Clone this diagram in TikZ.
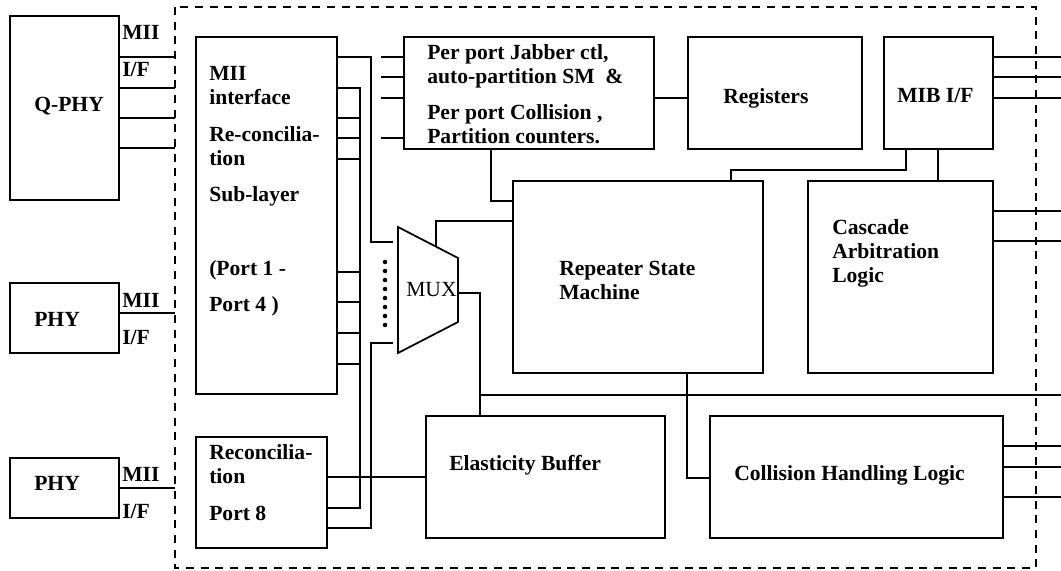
\documentclass[tikz,border=0pt]{standalone}
\usepackage{fontspec}
\setmainfont{Liberation Serif}
\usetikzlibrary{fit}

\begin{document}
\begin{tikzpicture}[x=0.75pt, y=-0.75pt,
    blockBox/.style={draw, line width=1.3pt, inner sep=0pt},
    labelTxt/.style={font=\fontsize{16.2}{18}\selectfont\bfseries,
                     align=left, anchor=north west, inner sep=0pt},
    muxTxt/.style={font=\fontsize{16.2}{18}\selectfont,
                   anchor=north west, inner sep=0pt},
    wire/.style={line width=1.1pt}]

  \useasboundingbox (0,0) rectangle (1061,571);

  %% ================================================================
  %%  CONTORNO DO CHIP (tracejado)
  %% ================================================================
  \draw[dash pattern=on 6pt off 5pt, line width=1.4pt] (175,7) rectangle (1036,568);

  \coordinate (frameW) at (175,0);
  \coordinate (edgeE)  at (1061,0);
  \coordinate (busA)   at (360,0);
  \coordinate (busB)   at (371,0);
  \coordinate (jabIn)  at (381,0);
  \coordinate (busC)   at (480,395);

  %% ================================================================
  %%  PHYs externos
  %% ================================================================
  \node[blockBox, fit={(10,16) (119,200)}]  (qphy) {};
  \node[blockBox, fit={(10,283) (119,353)}] (phyA) {};
  \node[blockBox, fit={(10,458) (119,518)}] (phyB) {};

  \node[labelTxt] (qphyLbl) at (34,97)  {Q-PHY};
  \node[labelTxt] (phyALbl) at (34,312) {PHY};
  \node[labelTxt] (phyBLbl) at (34,476) {PHY};

  \node[labelTxt] (ifLblQ) at (122,25)  {MII\\[9.5pt]I/F};
  \node[labelTxt] (ifLblA) at (122,293) {MII\\[9.5pt]I/F};
  \node[labelTxt] (ifLblB) at (122,467) {MII\\[10pt]I/F};

  \foreach \y in {57,88,118,148}
    \draw[wire] (qphy.east |- 0,\y) -- (frameW |- 0,\y);
  \draw[wire] (phyA.east |- 0,313) -- (frameW |- 0,313);
  \draw[wire] (phyB.east |- 0,488) -- (frameW |- 0,488);

  %% ================================================================
  %%  BLOCOS INTERNOS
  %% ================================================================
  \node[blockBox, fit={(196,37) (337,394)}]   (miiIf) {};
  \node[blockBox, fit={(196,437) (327,548)}]  (recon) {};
  \node[blockBox, fit={(404,37) (654,149)}]   (jabber) {};
  \node[blockBox, fit={(688,37) (862,149)}]   (regs) {};
  \node[blockBox, fit={(884,37) (993,149)}]   (mib) {};
  \node[blockBox, fit={(513,181) (763,373)}]  (rsm) {};
  \node[blockBox, fit={(808,181) (993,373)}]  (cascade) {};
  \node[blockBox, fit={(426,416) (665,538)}]  (elastic) {};
  \node[blockBox, fit={(710,416) (1003,538)}] (collision) {};

  \node[labelTxt] (miiLbl) at (209,66)
    {MII\\interface\\[9.5pt]Re-concilia-\\tion\\[9.5pt]Sub-layer\\[37.5pt](Port 1 -\\[9pt]Port 4 )};
  \node[labelTxt] (reconLbl) at (209,444) {Reconcilia-\\tion\\[10pt]Port 8};
  \node[labelTxt] (jabberLbl) at (427,44)
    {Per port Jabber ctl,\\auto-partition SM \ \&\\[9.5pt]Per port Collision ,\\Partition counters.};
  \node[labelTxt] (regsLbl) at (723,88) {Registers};
  \node[labelTxt] (mibLbl) at (897,88) {MIB I/F};
  \node[labelTxt] (rsmLbl) at (559,261) {Repeater State\\Machine};
  \node[labelTxt] (cascadeLbl) at (832,219) {Cascade\\Arbitration\\Logic};
  \node[labelTxt] (elasticLbl) at (449,455) {Elasticity Buffer};
  \node[labelTxt] (collisionLbl) at (734,465) {Collision Handling Logic};

  % MUX
  \coordinate (muxTL) at (398,227);
  \coordinate (muxTR) at (458,258);
  \coordinate (muxBR) at (458,322);
  \coordinate (muxBL) at (398,353);
  \draw[line width=1.3pt] (muxTL) -- (muxTR) -- (muxBR) -- (muxBL) -- cycle;
  \node[muxTxt] (muxLbl) at (406,282) {MUX};
  \coordinate (muxInA)  at (393,242);
  \coordinate (muxInB)  at (393,343);
  \coordinate (muxOutT) at (436,246);
  \coordinate (muxOutR) at (458,293);

  %% ================================================================
  %%  LIGACOES
  %% ================================================================
  \foreach \y in {118,138,159,272,302,333,364}
    \draw[wire] (miiIf.east |- 0,\y) -- (busA |- 0,\y);
  \draw[wire] (miiIf.east |- 0,88) -| (busA |- 0,508) -- (recon.east |- 0,508);
  \draw[wire] (miiIf.east |- 0,57) -| (busB |- 0,242) -- (muxInA);
  \draw[wire] (recon.east |- 0,528) -| (busB |- 0,343) -- (muxInB);
  \foreach \i in {0,...,7}
    \fill (385,{262+9*\i}) circle (1.7pt);

  \foreach \y in {57,77,98,138}
    \draw[wire] (jabIn |- 0,\y) -- (jabber.west |- 0,\y);
  \draw[wire] (jabber.east |- 0,98) -- (regs.west |- 0,98);
  \draw[wire] (jabber.south -| 491,0) |- (rsm.west |- 0,201);
  \draw[wire] (muxOutT) |- (rsm.west |- 0,221);
  \draw[wire] (muxOutR) -| (elastic.north -| busC);
  \draw[wire] (busC) -- (edgeE |- busC);
  \draw[wire] (recon.east |- 0,477) -- (elastic.west |- 0,477);
  \draw[wire] (rsm.south -| 687,0) |- (collision.west |- 0,478);

  \draw[wire] (mib.south -| 906,0) |- (731,170) -- (rsm.north -| 731,0);
  \draw[wire] (mib.south -| 938,0) -- (cascade.north -| 938,0);
  \foreach \y in {57,77,98}
    \draw[wire] (mib.east |- 0,\y) -- (edgeE |- 0,\y);
  \foreach \y in {211,241}
    \draw[wire] (cascade.east |- 0,\y) -- (edgeE |- 0,\y);
  \foreach \y in {446,467,497}
    \draw[wire] (collision.east |- 0,\y) -- (edgeE |- 0,\y);

\end{tikzpicture}
\end{document}
